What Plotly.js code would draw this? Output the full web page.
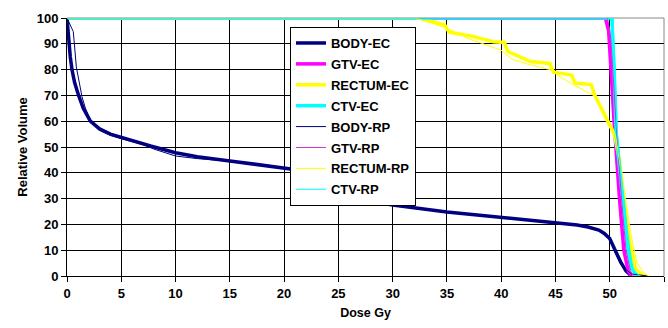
<!DOCTYPE html>
<html>
<head>
<meta charset="utf-8">
<script src="https://cdn.plot.ly/plotly-3.0.1.min.js"></script>
<style>html,body{margin:0;padding:0;background:#fff;}#chart{width:668px;height:328px;}</style>
</head>
<body>
<div id="chart"></div>
<script>
// ---- data ----
const seriesNames = ["BODY-EC","GTV-EC","RECTUM-EC","CTV-EC","BODY-RP","GTV-RP","RECTUM-RP","CTV-RP"];

const bodyEcDose = [0,0.15,0.3,0.46,0.7,1.07,1.5,2.15,3,4,5,6,7.7,10,12,15,18,20.6,24,26,28,30,35,40,45,47,48,49,49.5,50,50.5,51,51.5,52];
const bodyEcVol  = [100,90,85,80,75,70,65,60,57,55,53.7,52.5,50.4,47.8,46.2,44.6,43,41.5,35.8,31.8,29,27.5,24.8,22.8,20.5,19.8,19,17.8,16.5,14.5,10,5.5,2,0];

const gtvEcDose = [0,49.6,49.9,50.1,50.4,50.9,51.3,51.7,52];
const gtvEcVol  = [100,100,95,80,60,30,10,2,0];

const rectumEcDose = [0,32.5,34.8,35.2,37.4,39.3,40.3,40.6,41.0,42.7,44.5,44.8,46.5,46.8,48.3,48.6,49.8,50.4,50.9,51.3,51.8,52.4,53.0,53.4];
const rectumEcVol  = [100,100,97.3,94.5,92.8,90.8,90.5,87,86.3,83.1,82.4,79,77.9,74.8,74.2,70.3,60,55.3,45,29.5,14,2.5,0.5,0];

const ctvEcDose = [0,50.2,50.4,50.6,50.9,51.2,51.5,51.7,52,52.5];
const ctvEcVol  = [100,100,80,55,42,30,18,10,3,0];

const bodyRpDose = [0,0.3,0.58,0.86,1.1,1.38,1.7,2.2,2.6,3,4,5,7,8,10,12,15,18,20.6,24,26,28,30,35,40,45,47,48,49,49.5,50,50.5,51,51.5,52,53.5];
const bodyRpVol  = [100,97.5,94.7,81,75,69.5,65,60,58,56.5,54.5,53.2,51,49.2,46.5,45.5,44.5,43,41.3,35.8,31.8,28.8,27.3,24.6,22.6,20.4,19.6,18.8,17.5,16,14,9,5,2.5,0.8,0];

const gtvRpDose = [0,49.8,50.1,50.3,50.6,51.1,51.5,51.9,52.2];
const gtvRpVol  = [100,100,92,78,58,29,10,2,0];

const rectumRpDose = [0,32,34,35.5,37,39,40,41,42.5,44.5,45.5,46.5,48.5,49.5,50.5,51,51.5,52,52.5,53.2,53.6];
const rectumRpVol  = [100,100,97.5,95,92,89,87.5,84,82,80,77,74.5,70,64,55,42,28,15,5,1,0];

const ctvRpDose = [0,50.3,50.5,50.7,51,51.3,51.6,51.9,52.2,52.8];
const ctvRpVol  = [100,100,80,56,42,30,18,9,2,0];

const xTicks = [0,5,10,15,20,25,30,35,40,45,50,55];
const yTicks = [0,10,20,30,40,50,60,70,80,90,100];

// ---- styling ----
const xs = [bodyEcDose,gtvEcDose,rectumEcDose,ctvEcDose,bodyRpDose,gtvRpDose,rectumRpDose,ctvRpDose];
const ys = [bodyEcVol,gtvEcVol,rectumEcVol,ctvEcVol,bodyRpVol,gtvRpVol,rectumRpVol,ctvRpVol];
const colors = ["#000080","#FF00FF","#FFFF00","#00FFFF","#000080","#CC33CC","#FFFF00","#00FFFF"];
const widths = [3.5,3.5,3.5,3.5,1,1,1,1];

const traces = seriesNames.map((n,i)=>({
  type:'scatter', mode:'lines', name:n, x:xs[i], y:ys[i],
  line:{color:colors[i], width:widths[i]},
  legendgroup:'g'+i
}));

const fam = 'Arial, "Liberation Sans", sans-serif';
const font = {family:fam, size:12.5, color:'#000', weight:'bold'};

const layout = {
  width:668, height:328,
  margin:{l:67, r:4, t:18, b:52},
  paper_bgcolor:'#fff', plot_bgcolor:'#fff',
  font:font,
  showlegend:true,
  legend:{x:0.3735, y:0.965, xanchor:'left', yanchor:'top', bgcolor:'#fff',
          bordercolor:'#000', borderwidth:1, font:{family:fam, size:13, color:'#000', weight:'bold'},
          tracegroupgap:1, traceorder:'grouped', itemwidth:30},
  xaxis:{range:[0,55], tickvals:xTicks, ticktext:xTicks.map(String), showgrid:true, gridcolor:'#000', gridwidth:1,
         zeroline:false, showline:true, linecolor:'#000', linewidth:1, ticks:'outside', ticklen:5, tickcolor:'#000',
         tickfont:{family:fam, size:13, color:'#000', weight:'bold'},
         title:{text:'Dose Gy', font:font, standoff:8}},
  yaxis:{range:[0,100], tickvals:yTicks, ticktext:yTicks.map(String), showgrid:true, gridcolor:'#000', gridwidth:1,
         zeroline:false, showline:true, linecolor:'#000', linewidth:1, ticks:'outside', ticklen:5, tickcolor:'#000',
         tickfont:{family:fam, size:13, color:'#000', weight:'bold'},
         title:{text:'Relative Volume', font:{family:fam, size:13, color:'#000', weight:'bold'}, standoff:6}},
  shapes:[
    {type:'line', xref:'paper', yref:'paper', x0:1, x1:1, y0:0, y1:1, line:{color:'#888', width:1}, layer:'below'},
    {type:'line', xref:'paper', yref:'paper', x0:0, x1:1, y0:1, y1:1, line:{color:'#888', width:1}, layer:'below'}
  ]
};

Plotly.newPlot('chart', traces, layout, {staticPlot:true, displayModeBar:false});
</script>
</body>
</html>
